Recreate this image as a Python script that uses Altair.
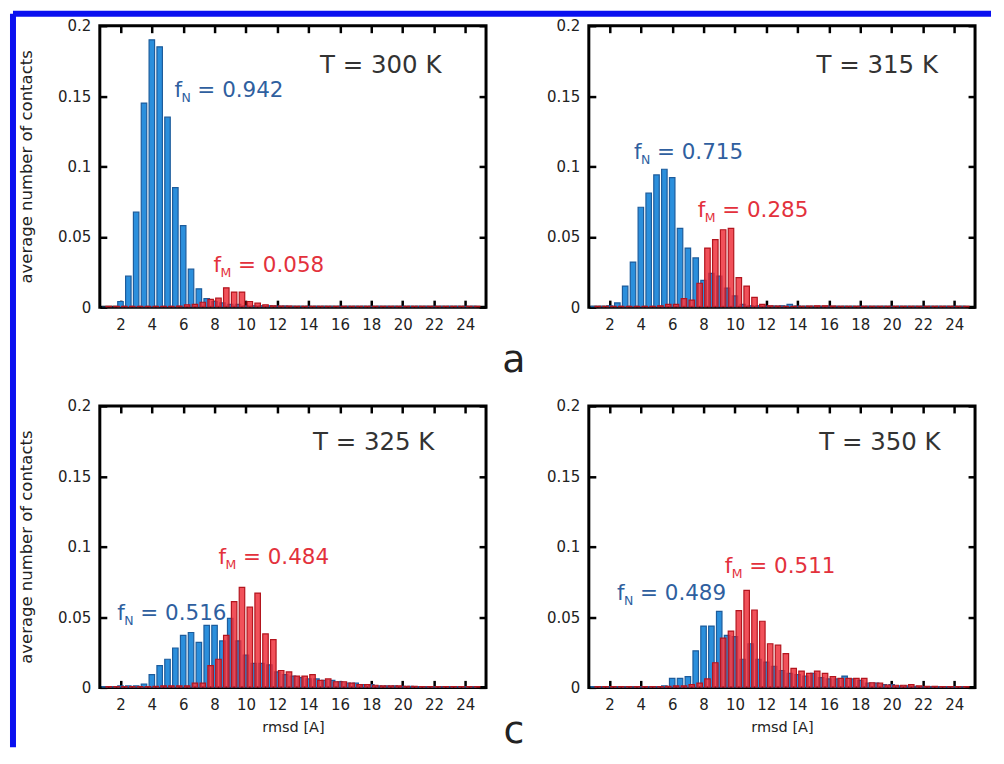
import altair as alt
import pandas as pd

# ---------------- data ----------------
rmsd_bins = [1.0, 1.5, 2.0, 2.5, 3.0, 3.5, 4.0, 4.5,
             5.0, 5.5, 6.0, 6.5, 7.0, 7.5, 8.0, 8.5,
             9.0, 9.5, 10.0, 10.5, 11.0, 11.5, 12.0, 12.5,
             13.0, 13.5, 14.0, 14.5, 15.0, 15.5, 16.0, 16.5,
             17.0, 17.5, 18.0, 18.5, 19.0, 19.5, 20.0, 20.5,
             21.0, 21.5, 22.0, 22.5, 23.0, 23.5, 24.0, 24.5]
RED_SHIFT = 0.25  # misfolded histogram bins are drawn a quarter bin to the right

# native (blue) and misfolded (red) contact histograms, T = 300 K
native_300 = [0, 0, 0.004, 0.022, 0.0675, 0.145, 0.190, 0.185,
              0.135, 0.085, 0.058, 0.027, 0.013, 0.006, 0.004, 0.003,
              0.002, 0.002, 0.001, 0.001, 0.001, 0.001, 0.0008, 0.0008,
              0.0006, 0.0005, 0.0005, 0.0005, 0.0005, 0.0005, 0.0005, 0.0005,
              0.0005, 0.0005, 0.0005, 0.0005, 0.0005, 0.0005, 0.0005, 0.0005,
              0.0005, 0.0005, 0.0005, 0.0005, 0.0005, 0.0005, 0.0005, 0.0005]
misfolded_300 = [0.0005, 0.0005, 0.0005, 0.0005, 0.0005, 0.0005, 0.0005, 0.0005,
                 0.0005, 0.0008, 0.0017, 0.002, 0.0035, 0.0055, 0.0064, 0.0137,
                 0.0107, 0.0107, 0.004, 0.0028, 0.0017, 0.001, 0.0008, 0.0008,
                 0.0006, 0.0005, 0.0005, 0.0005, 0.0005, 0.0005, 0.0005, 0.0005,
                 0.0005, 0.0005, 0.0005, 0.0005, 0.0005, 0.0005, 0.0005, 0.0005,
                 0.0005, 0.0005, 0.0005, 0.0005, 0.0005, 0.0005, 0.0005, 0.0005]
# T = 315 K
native_315 = [0.0005, 0.0005, 0.001, 0.003, 0.015, 0.032, 0.071, 0.081,
              0.094, 0.098, 0.092, 0.056, 0.042, 0.035, 0.019, 0.024,
              0.022, 0.0135, 0.008, 0.002, 0.001, 0.001, 0.0008, 0.0008,
              0.001, 0.002, 0.0008, 0.0005, 0.0005, 0.0005, 0.0005, 0.0005,
              0.0005, 0.0005, 0.0005, 0.0005, 0.0005, 0.0005, 0.0005, 0.0005,
              0.0005, 0.0005, 0.0005, 0.0005, 0.0005, 0.0005, 0.0005, 0.0005]
misfolded_315 = [0.0005, 0.0005, 0.0005, 0.0005, 0.0005, 0.0005, 0.0005, 0.0005,
                 0.001, 0.002, 0.002, 0.006, 0.005, 0.017, 0.042, 0.048,
                 0.055, 0.056, 0.021, 0.015, 0.007, 0.002, 0.001, 0.0008,
                 0.0006, 0.0005, 0.0005, 0.0008, 0.001, 0.001, 0.0008, 0.0005,
                 0.0005, 0.0005, 0.0005, 0.0005, 0.0005, 0.0005, 0.0005, 0.0005,
                 0.0005, 0.0005, 0.0005, 0.0005, 0.0005, 0.0005, 0.0005, 0.0005]
# T = 325 K
native_325 = [0.0005, 0.0005, 0.001, 0.001, 0.001, 0.0024, 0.009, 0.0155,
              0.020, 0.028, 0.037, 0.039, 0.032, 0.044, 0.044, 0.033,
              0.049, 0.033, 0.023, 0.017, 0.017, 0.016, 0.011, 0.009,
              0.008, 0.007, 0.006, 0.006, 0.005, 0.005, 0.004, 0.003,
              0.003, 0.002, 0.002, 0.001, 0.001, 0.001, 0.0008, 0.0008,
              0.0006, 0.0005, 0.0005, 0.0005, 0.0005, 0.0005, 0.0005, 0.0005]
misfolded_325 = [0.0005, 0.0005, 0.0005, 0.0005, 0.0005, 0.0005, 0.0008, 0.001,
                 0.001, 0.001, 0.001, 0.003, 0.003, 0.0155, 0.020, 0.037,
                 0.061, 0.071, 0.057, 0.067, 0.038, 0.034, 0.012, 0.011,
                 0.008, 0.008, 0.009, 0.005, 0.006, 0.004, 0.004, 0.003,
                 0.002, 0.002, 0.0015, 0.001, 0.001, 0.001, 0.0008, 0.0008,
                 0.0006, 0.0005, 0.0005, 0.0005, 0.0005, 0.0005, 0.0005, 0.0005]
# T = 350 K
native_350 = [0.0005, 0.0005, 0.0005, 0.0005, 0.0005, 0.0005, 0.0005, 0.0005,
              0.0005, 0.001, 0.0064, 0.0064, 0.0076, 0.026, 0.0436, 0.0436,
              0.054, 0.037, 0.036, 0.020, 0.031, 0.020, 0.018, 0.015,
              0.012, 0.010, 0.009, 0.008, 0.010, 0.007, 0.006, 0.006,
              0.008, 0.006, 0.005, 0.003, 0.003, 0.002, 0.002, 0.001,
              0.001, 0.0008, 0.0006, 0.0005, 0.0005, 0.0005, 0.0005, 0.0005]
misfolded_350 = [0.0005, 0.0005, 0.0005, 0.0005, 0.0005, 0.0005, 0.0005, 0.0005,
                 0.0005, 0.0008, 0.001, 0.001, 0.002, 0.003, 0.006, 0.0175,
                 0.035, 0.040, 0.0545, 0.069, 0.055, 0.047, 0.031, 0.030,
                 0.024, 0.0135, 0.0116, 0.010, 0.0116, 0.010, 0.0076, 0.0064,
                 0.0064, 0.0064, 0.0064, 0.0033, 0.003, 0.0017, 0.0015, 0.0015,
                 0.002, 0.001, 0.0008, 0.0008, 0.0006, 0.0005, 0.0005, 0.0005]

native = [native_300, native_315, native_325, native_350]
misfolded = [misfolded_300, misfolded_315, misfolded_325, misfolded_350]

temperature_labels = ["T = 300 K", "T = 315 K", "T = 325 K", "T = 350 K"]
fN_values = ["0.942", "0.715", "0.516", "0.489"]
fM_values = ["0.058", "0.285", "0.484", "0.511"]
panel_letters = ["a", "b", "c", "d"]

x_ticks = [2, 4, 6, 8, 10, 12, 14, 16, 18, 20, 22, 24]
y_ticks = [0, 0.05, 0.1, 0.15, 0.2]

# annotation anchors in data units (rmsd, contacts)
t_anchor = [(18.6, 0.1667), (19.08, 0.1667), (18.15, 0.169), (19.25, 0.1687)]
fN_anchor = [(5.44, 0.149), (3.56, 0.105), (1.8, 0.048), (2.48, 0.062)]
fM_anchor = [(7.94, 0.0248), (7.63, 0.0638), (8.25, 0.088), (9.36, 0.081)]

# ---------------- styles ----------------
FONT = "DejaVu Sans"
BLUE_FILL, BLUE_EDGE = "#2b8fdc", "#1d5c9c"
RED_FILL, RED_EDGE = "#ee2b36", "#b3151e"
FN_COLOR, FM_COLOR = "#2f5f9f", "#e3313c"
BORDER = "#0a10f0"
W, H = 387, 282


def text_layer(x, y, text, xs, ys, size, color, dx=0, dy=0, align="left"):
    df = pd.DataFrame({"x": [x], "y": [y], "t": [text]})
    return alt.Chart(df).mark_text(font=FONT, fontSize=size, color=color, align=align,
                                   baseline="alphabetic", dx=dx, dy=dy).encode(
        x=alt.X("x:Q", scale=xs, axis=None),
        y=alt.Y("y:Q", scale=ys, axis=None),
        text="t:N")


def make_panel(i):
    left = i in (0, 2)
    bottom = i in (2, 3)
    xs = alt.Scale(domain=[1, 25], nice=False, zero=False)
    ys = alt.Scale(domain=[0, 0.2], nice=False)

    dfb = pd.DataFrame({"rmsd": rmsd_bins, "contacts": native[i]})
    dfr = pd.DataFrame({"rmsd": [b + RED_SHIFT for b in rmsd_bins], "contacts": misfolded[i]})

    x_bottom = alt.Axis(values=x_ticks, format="d", orient="bottom",
                        title="rmsd [A]" if bottom else None,
                        titlePadding=8, titleFontSize=14.5)
    y_left = alt.Axis(values=y_ticks, format=".2~f", orient="left",
                      title="average number of contacts" if left else None,
                      titlePadding=23, titleFontSize=16.5)
    x_top = alt.Axis(values=x_ticks, orient="top", labels=False, title=None)
    y_right = alt.Axis(values=y_ticks, orient="right", labels=False, title=None)

    blue = alt.Chart(dfb).mark_bar(size=5.5, fill=BLUE_FILL, stroke=BLUE_EDGE,
                                   strokeWidth=1.2, clip=True).encode(
        x=alt.X("rmsd:Q", scale=xs, axis=x_bottom),
        y=alt.Y("contacts:Q", scale=ys, axis=y_left))
    red = alt.Chart(dfr).mark_bar(size=5.5, fill=RED_FILL, fillOpacity=0.82, stroke=RED_EDGE,
                                  strokeWidth=1.2, clip=True).encode(
        x=alt.X("rmsd:Q", scale=xs, axis=x_top),
        y=alt.Y("contacts:Q", scale=ys, axis=y_right))

    layers = [blue, red]
    tx, ty = t_anchor[i]
    layers.append(text_layer(tx, ty, temperature_labels[i], xs, ys, 24.5, "#333333", align="center"))
    nx, ny = fN_anchor[i]
    layers += [text_layer(nx, ny, "f", xs, ys, 21.5, FN_COLOR),
               text_layer(nx, ny, "N", xs, ys, 12.5, FN_COLOR, dx=7, dy=5),
               text_layer(nx, ny, "= " + fN_values[i], xs, ys, 21.5, FN_COLOR, dx=23)]
    mx, my = fM_anchor[i]
    layers += [text_layer(mx, my, "f", xs, ys, 21.5, FM_COLOR),
               text_layer(mx, my, "M", xs, ys, 12.5, FM_COLOR, dx=7, dy=5),
               text_layer(mx, my, "= " + fM_values[i], xs, ys, 21.5, FM_COLOR, dx=24.5)]

    one = pd.DataFrame({"k": [0]})
    if left:
        layers.append(alt.Chart(one).mark_text(text=panel_letters[i], font=FONT, fontSize=38,
                                               color="#222222", align="center",
                                               baseline="alphabetic").encode(
            x=alt.value(415), y=alt.value(347 if i == 0 else 338)))
    if i == 0:
        # blue figure frame (top and left edges)
        layers.append(alt.Chart(one).mark_rule(color=BORDER, strokeWidth=6).encode(
            x=alt.value(-87), y=alt.value(-12), y2=alt.value(723)))
        layers.append(alt.Chart(one).mark_rule(color=BORDER, strokeWidth=6).encode(
            x=alt.value(-87), x2=alt.value(893), y=alt.value(-12)))

    return alt.layer(*layers).resolve_axis(x="independent", y="independent").properties(
        width=W, height=H)


panels = [make_panel(i) for i in range(4)]

chart = alt.concat(*panels, columns=2, spacing={"row": 99, "column": 103}, bounds="flush").properties(
    padding=0
).configure_view(
    stroke="black", strokeWidth=3
).configure_axis(
    labelFont=FONT, labelFontSize=15, labelColor="#222222",
    titleFont=FONT, titleFontWeight="normal", titleColor="#222222",
    domain=False, grid=False, ticks=True, tickColor="black", tickWidth=2.5,
    tickSize=7, offset=-7, minExtent=0
).configure_axisX(labelPadding=10).configure_axisY(labelPadding=9)

chart.save("out.html", embed_options={"renderer": "svg", "actions": False})
